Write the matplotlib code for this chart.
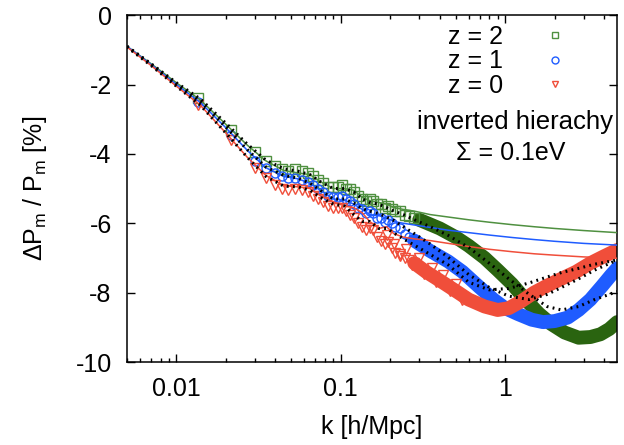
import numpy as np
import matplotlib
matplotlib.use('Agg')
import matplotlib.pyplot as plt

######## DATA ########

# linear theory (solid lines)
K_LIN = [0.005, 0.007, 0.01, 0.014, 0.02, 0.027, 0.035, 0.045, 0.055, 0.065,
         0.075, 0.09, 0.105, 0.12, 0.135, 0.15, 0.17, 0.19, 0.21, 0.24,
         0.28, 0.35, 0.45, 0.6, 0.8, 1.1, 1.5, 2.0, 3.0, 4.8]
LIN_Z2 = [-0.9, -1.4, -1.95, -2.45, -3.15, -3.75, -4.2, -4.48, -4.55, -4.6,
          -4.8, -5.0, -5.0, -5.05, -5.25, -5.35, -5.4, -5.45, -5.55, -5.6,
          -5.65, -5.75, -5.82, -5.9, -5.97, -6.04, -6.1, -6.15, -6.21, -6.27]
LIN_Z1 = [-0.9, -1.42, -2.0, -2.52, -3.25, -3.9, -4.4, -4.65, -4.72, -4.85,
          -5.05, -5.3, -5.33, -5.45, -5.6, -5.75, -5.78, -5.85, -5.95, -6.0,
          -6.05, -6.12, -6.2, -6.27, -6.34, -6.41, -6.47, -6.52, -6.58, -6.63]
LIN_Z0 = [-0.92, -1.45, -2.05, -2.6, -3.4, -4.1, -4.62, -4.92, -4.95, -5.0,
          -5.2, -5.38, -5.5, -5.55, -5.7, -5.95, -6.15, -6.1, -6.3, -6.4,
          -6.45, -6.5, -6.58, -6.67, -6.75, -6.82, -6.88, -6.92, -6.97, -7.01]

# halofit (black dotted lines)
K_FIT = [0.005, 0.007, 0.01, 0.014, 0.02, 0.027, 0.035, 0.045, 0.055, 0.065,
         0.075, 0.09, 0.105, 0.12, 0.135, 0.15, 0.17, 0.19, 0.21, 0.24,
         0.28, 0.35, 0.45, 0.6, 0.8, 1.05, 1.4, 1.8, 2.2, 2.8, 3.5, 4.8]
FIT_Z2 = [-0.9, -1.4, -1.95, -2.42, -3.12, -3.72, -4.18, -4.43, -4.5, -4.6,
          -4.8, -5.0, -5.0, -5.1, -5.3, -5.4, -5.45, -5.55, -5.65, -5.75,
          -5.9, -6.1, -6.35, -6.7, -7.15, -7.6, -8.05, -8.4, -8.5, -8.4, -8.2, -7.97]
FIT_Z1 = [-0.9, -1.42, -2.0, -2.5, -3.23, -3.88, -4.38, -4.62, -4.7, -4.85,
          -5.05, -5.3, -5.3, -5.42, -5.58, -5.65, -5.72, -5.82, -5.92, -6.1,
          -6.3, -6.6, -6.98, -7.48, -7.85, -8.1, -8.2, -8.05, -7.85, -7.6, -7.35, -7.06]
FIT_Z0 = [-0.92, -1.45, -2.05, -2.6, -3.4, -4.1, -4.65, -4.93, -4.95, -5.05,
          -5.25, -5.45, -5.5, -5.75, -5.95, -5.95, -6.15, -6.15, -6.28, -6.45,
          -6.63, -6.9, -7.2, -7.7, -7.92, -7.88, -7.72, -7.55, -7.42, -7.3, -7.18, -7.06]

# simulations, sparse points at low k
K_SIM = [0.0135, 0.0216, 0.03, 0.035, 0.04, 0.044, 0.048, 0.053, 0.058, 0.063,
         0.068, 0.073, 0.078, 0.084, 0.09, 0.096, 0.102, 0.108, 0.114, 0.121,
         0.128, 0.135, 0.142, 0.15, 0.158, 0.166, 0.175, 0.185, 0.195, 0.205,
         0.215, 0.23, 0.245, 0.26, 0.28]
SIM_Z2 = [-2.4, -3.3, -3.95, -4.2, -4.35, -4.45, -4.5, -4.45, -4.5, -4.55,
          -4.65, -4.75, -4.85, -4.95, -4.95, -4.95, -4.9, -5.0, -5.0, -5.1,
          -5.2, -5.3, -5.35, -5.3, -5.35, -5.45, -5.45, -5.55, -5.5, -5.6,
          -5.65, -5.65, -5.75, -5.8, -5.85]
SIM_Z1 = [-2.5, -3.45, -4.2, -4.4, -4.55, -4.65, -4.7, -4.7, -4.75, -4.8,
          -4.9, -5.0, -5.1, -5.2, -5.25, -5.25, -5.2, -5.3, -5.35, -5.45,
          -5.55, -5.6, -5.7, -5.65, -5.7, -5.85, -5.85, -5.95, -5.9, -6.0,
          -6.1, -6.15, -6.3, -6.4, -6.5]
SIM_Z0 = [-2.6, -3.6, -4.4, -4.7, -4.9, -5.0, -5.05, -5.0, -5.05, -5.1,
          -5.2, -5.3, -5.4, -5.5, -5.55, -5.55, -5.55, -5.65, -5.75, -5.85,
          -6.0, -6.1, -6.2, -6.15, -6.2, -6.4, -6.5, -6.6, -6.55, -6.7,
          -6.85, -6.9, -7.0, -7.05, -7.15]

# extra scattered z=0 points where the red cloud is noisy
K_SCAT_Z0 = [0.19, 0.21, 0.23, 0.25, 0.27, 0.3, 0.32, 0.36, 0.38, 0.42, 0.46, 0.5, 0.55]
SCAT_Z0 = [-6.35, -6.6, -6.95, -6.75, -7.2, -7.0, -7.45, -7.3, -7.7, -7.5, -7.95, -7.75, -8.2]

# simulations, dense points at high k (drawn as a band)
K_BAND_Z2 = [0.3, 0.4, 0.5, 0.6, 0.75, 0.9, 1.1, 1.3, 1.6, 1.9, 2.3, 2.8, 3.3, 3.8, 4.3, 4.8]
BAND_Z2 = [-5.9, -6.15, -6.4, -6.65, -7.0, -7.35, -7.75, -8.15, -8.6, -8.9, -9.15, -9.3, -9.28, -9.2, -9.05, -8.85]
K_BAND_Z1 = [0.28, 0.35, 0.45, 0.55, 0.7, 0.85, 1.0, 1.2, 1.45, 1.7, 2.0, 2.4, 2.8, 3.3, 3.9, 4.4, 4.8]
BAND_Z1 = [-6.5, -6.8, -7.1, -7.4, -7.85, -8.2, -8.45, -8.62, -8.78, -8.85, -8.82, -8.72, -8.5, -8.2, -7.8, -7.5, -7.3]
K_BAND_Z0 = [0.28, 0.33, 0.4, 0.5, 0.6, 0.75, 0.9, 1.05, 1.25, 1.5, 1.8, 2.2, 2.7, 3.3, 4.0, 4.8]
BAND_Z0 = [-7.15, -7.4, -7.65, -7.95, -8.2, -8.4, -8.5, -8.45, -8.25, -8.0, -7.8, -7.6, -7.4, -7.15, -6.95, -6.77]

######## STYLE ########

GREEN = '#4f9040'
GREEN_DARK = '#2a6410'
BLUE = '#1f5cff'
RED = '#f04e3a'

plt.rcParams['font.family'] = ['Liberation Sans', 'DejaVu Sans']
plt.rcParams['mathtext.fontset'] = 'custom'
plt.rcParams['mathtext.rm'] = 'Liberation Sans'
plt.rcParams['mathtext.it'] = 'Liberation Sans'
FS = 18


def plot_series(ax, k_sim, sim, k_band, band, k_lin, lin, k_fit, fit,
                color, band_color, marker, label):
    ax.plot(k_band, band, '-', color=band_color, lw=10, solid_capstyle='round',
            zorder=2)
    ax.plot(k_sim, sim, linestyle='none', marker=marker, ms=6.5, mfc='none',
            mec=color, mew=1.0, zorder=3, label=label)
    ax.plot(k_lin, lin, '-', color=color, lw=1.1, zorder=4)
    ax.plot(k_fit, fit, color='k', lw=2.2, dashes=(0.6, 1.4), zorder=5)


def main():
    fig = plt.figure(figsize=(6.24, 4.45), dpi=100)
    ax = fig.add_axes([0.2035, 0.1865, 0.7855, 0.7795])

    plot_series(ax, K_SIM, SIM_Z2, K_BAND_Z2, BAND_Z2, K_LIN, LIN_Z2, K_FIT, FIT_Z2,
                GREEN, GREEN_DARK, 's', 'z = 2')
    plot_series(ax, K_SIM, SIM_Z1, K_BAND_Z1, BAND_Z1, K_LIN, LIN_Z1, K_FIT, FIT_Z1,
                BLUE, BLUE, 'o', 'z = 1')
    plot_series(ax, K_SIM, SIM_Z0, K_BAND_Z0, BAND_Z0, K_LIN, LIN_Z0, K_FIT, FIT_Z0,
                RED, RED, 'v', 'z = 0')
    ax.plot(K_SCAT_Z0, SCAT_Z0, linestyle='none', marker='v', ms=6.5, mfc='none',
            mec=RED, mew=1.0, zorder=3)

    ax.set_xscale('log')
    ax.set_xlim(0.005, 4.8)
    ax.set_ylim(-10, 0)
    ax.set_xticks([0.01, 0.1, 1])
    ax.set_xticklabels(['0.01', '0.1', '1'])
    ax.set_yticks([0, -2, -4, -6, -8, -10])
    ax.set_yticklabels(['0', '-2', '-4', '-6', '-8', '-10'])
    ax.tick_params(which='both', direction='in', top=True, right=True,
                   labelsize=FS, pad=11)
    ax.tick_params(which='major', length=6, width=1)
    ax.tick_params(which='minor', length=3, width=1)
    ax.minorticks_on()
    ax.yaxis.set_minor_locator(matplotlib.ticker.NullLocator())
    for s in ax.spines.values():
        s.set_linewidth(1.1)

    ax.set_xlabel('k [h/Mpc]', fontsize=FS, labelpad=10)
    ax.set_ylabel(r'$\Delta$P$_\mathrm{m}$ / P$_\mathrm{m}$ [%]', fontsize=FS)
    ax.yaxis.set_label_coords(-0.16, 0.5)

    leg = ax.legend(loc='upper right', bbox_to_anchor=(0.93, 1.015), frameon=False,
                    markerfirst=False, fontsize=FS, handlelength=1.0,
                    handletextpad=1.6, labelspacing=0.02, borderaxespad=0.2)
    for h in leg.legend_handles:
        h.set_markersize(5)

    ax.text(0.792, 0.692, 'inverted hierachy', transform=ax.transAxes,
            ha='center', va='center', fontsize=18.5)
    ax.text(0.782, 0.602, 'Σ = 0.1eV', transform=ax.transAxes,
            ha='center', va='center', fontsize=FS)

    fig.savefig('out.png', dpi=100)


if __name__ == '__main__':
    main()
